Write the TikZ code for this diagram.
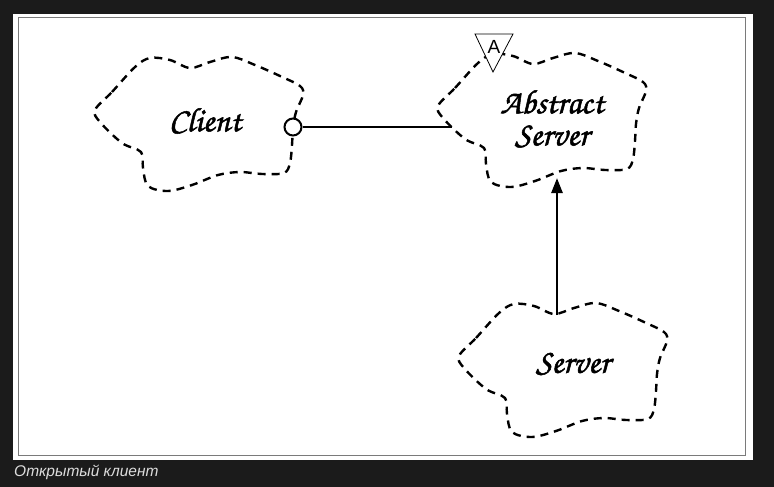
\documentclass[tikz,border=0pt]{standalone}
\usepackage{fontspec}
\usetikzlibrary{arrows.meta}
\newfontfamily\cloudfont[FakeBold=1.5]{TeX Gyre Chorus}
\newfontfamily\capfont{Liberation Sans}
\definecolor{bgdark}{HTML}{1B1B1B}
\definecolor{frame}{HTML}{7A7A7A}
\definecolor{captext}{HTML}{DDDDDD}
\tikzstyle{cloudline}=[line width=2.4pt, dash pattern=on 8pt off 6pt, line join=round]
\tikzstyle{label}=[font=\cloudfont\fontsize{34}{32}\selectfont, align=center, inner sep=0pt]
\tikzstyle{conn}=[line width=2.6pt]
\tikzstyle{port}=[circle, draw, fill=white, line width=2pt, minimum size=17pt, inner sep=0pt]
\tikzset{
  pics/bcloud/.style={code={
    \draw[cloudline] plot[smooth cycle, tension=0.55] coordinates {
      (-105,-15) (-88,-33) (-65,-58) (-50,-67) (-30,-65) (-10,-57) (10,-63)
      (32,-68) (55,-60) (80,-49) (100,-39) (103,-30) (96,-13) (93,3) (92,20)
      (90,38) (84,48) (62,49) (40,47) (18,50) (-8,60) (-32,66) (-52,61)
      (-57,43) (-59,27) (-78,18) (-100,-3)};
    \coordinate (-lport) at (-91,6);
    \coordinate (-top) at (-7,-56);
    \coordinate (-bot) at (14,57);
  }}
}

\begin{document}
\begin{tikzpicture}[x=1pt, y=-1pt]
  \fill[bgdark] (0,0) rectangle (774,487);
  \fill[white] (13,14) rectangle (753,460);
  \draw[frame, line width=1pt] (18,17.5) rectangle (745,455.5);
  \useasboundingbox (0,0) rectangle (774,487);

  % clouds
  \pic (clientcloud) at (200,125) {bcloud};
  \pic (abstractcloud) at (543,121) {bcloud};
  \pic (servercloud) at (564,371) {bcloud};

  \node[label] (client) at (205,121) {Client};
  \node[label] (abstract) at (552,119) {Abstract\\Server};
  \node[label] (server) at (573,364) {Server};

  % abstract marker
  \draw[fill=white, line width=0.8pt] (475,34) -- (513,34) -- (493,72) -- cycle;
  \node[font=\capfont\fontsize{19}{19}\selectfont, inner sep=0pt] (atag) at (494,47) {A};

  % connectors
  \node[port] (clientport) at (293,127) {};
  \draw[conn] (clientport) -- (abstractcloud-lport);
  \draw[conn, -{Triangle[length=15pt, width=11pt]}] (servercloud-top) -- (abstractcloud-bot);

  \node[font=\capfont\itshape\fontsize{15.5}{18}\selectfont, text=captext, anchor=base west, inner sep=0pt] (caption) at (14,476) {Открытый клиент};
\end{tikzpicture}
\end{document}
